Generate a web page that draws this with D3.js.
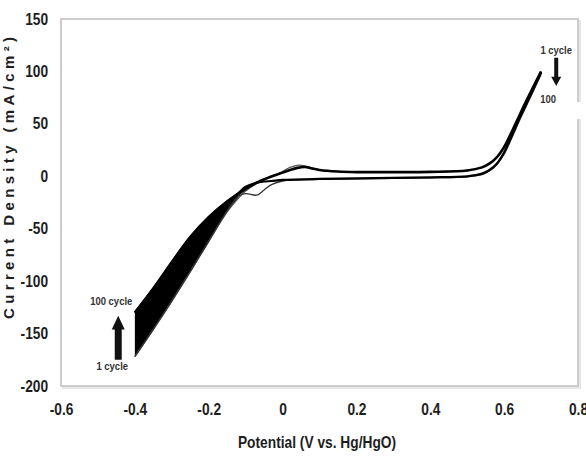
<!DOCTYPE html>
<html>
<head>
<meta charset="utf-8">
<script src="https://cdn.jsdelivr.net/npm/d3@7/dist/d3.min.js"></script>
<style>
    body { margin: 0; background: #fff; }
    .tick text { font-family: 'Liberation Sans', Arial, sans-serif; font-weight: bold; font-size: 16px; fill: #1e1e1e; }
    .lbl { font-family: 'Liberation Sans', Arial, sans-serif; font-weight: bold; fill: #1e1e1e; }
    .note { font-family: 'Liberation Sans', Arial, sans-serif; font-weight: bold; font-size: 11px; fill: #333; }
</style>
</head>
<body>
<div id="chart"></div>
<script>
// tick labels
var xTicks = [-0.6, -0.4, -0.2, 0, 0.2, 0.4, 0.6, 0.8];
var yTicks = [150, 100, 50, 0, -50, -100, -150, -200];

// forward (anodic) sweep, -0.4 -> 0.7 V
var fwdV   = [-0.4, -0.35, -0.3, -0.25, -0.2, -0.15, -0.12, -0.1, -0.07, -0.04, -0.02, 0, 0.02, 0.04, 0.06, 0.08, 0.1, 0.15, 0.2, 0.3, 0.4, 0.5, 0.54, 0.56, 0.58, 0.6, 0.62, 0.64, 0.66, 0.68, 0.7];
var fwd100 = [-130, -107, -82, -58, -39, -24, -17, -12, -6, -1.5, 1, 3.5, 6, 8, 8.8, 7.5, 6, 4.5, 4, 4, 4.2, 5.5, 8.5, 12, 18, 28, 42, 57, 72, 86, 100];
var fwd1   = [-172, -146, -119, -91, -62, -34, -21, -14, -7, -2, 1.5, 4.5, 8.5, 10.5, 10, 8, 6, 4.5, 4, 4, 4.2, 5.5, 8.5, 12, 18, 27, 41, 56, 71, 85, 98];

// reverse (cathodic) sweep, 0.7 -> -0.4 V
var revV   = [0.7, 0.68, 0.66, 0.64, 0.62, 0.6, 0.58, 0.56, 0.54, 0.5, 0.4, 0.3, 0.2, 0.1, 0, -0.03, -0.05, -0.07, -0.1, -0.12, -0.15, -0.2, -0.25, -0.3, -0.35, -0.4];
var rev100 = [99, 84, 69, 54, 38, 23, 12, 6, 2.5, 0, -1, -1.5, -2, -2.5, -3.5, -4.5, -5, -6, -10, -16, -24, -39, -58, -82, -107, -130];
var rev1   = [97, 82, 67, 52, 36, 21, 11, 5, 1.5, -0.5, -1.5, -2, -2.5, -3, -4.5, -8, -13, -18, -16.5, -19, -33, -62, -91, -119, -146, -172];

var narrow = "scale(0.86,1)";

function draw_chart(element) {

    var svg = d3.select("#" + element).append("svg").attr("width", 586).attr("height", 462),
        margin = {top: 19, right: 8, bottom: 76, left: 61},
        width = +svg.attr("width") - margin.left - margin.right,
        height = +svg.attr("height") - margin.top - margin.bottom;

    var x = d3.scaleLinear().domain([-0.6, 0.8]).range([margin.left, margin.left + width]);
    var y = d3.scaleLinear().domain([-200, 150]).range([margin.top + height, margin.top]);

    // plot frame with a soft shadow
    svg.append("rect")
        .attr("x", margin.left + 2).attr("y", margin.top + 2)
        .attr("width", width).attr("height", height)
        .attr("fill", "none").attr("stroke", "#e6e6e6").attr("stroke-width", 2);
    svg.append("rect")
        .attr("x", margin.left).attr("y", margin.top)
        .attr("width", width).attr("height", height)
        .attr("fill", "#fff").attr("stroke", "#cdcdcd").attr("stroke-width", 2);

    var fmt = function (d) { return String(d); };

    var gx = svg.append("g")
        .attr("transform", "translate(0," + (margin.top + height) + ")")
        .call(d3.axisBottom(x).tickValues(xTicks).tickSize(0).tickPadding(18).tickFormat(fmt));
    gx.select(".domain").remove();
    gx.selectAll(".tick text").attr("transform", narrow);

    var gy = svg.append("g")
        .attr("transform", "translate(" + margin.left + ",0)")
        .call(d3.axisLeft(y).tickValues(yTicks).tickSize(0).tickPadding(15).tickFormat(fmt));
    gy.select(".domain").remove();
    gy.selectAll(".tick text").attr("transform", narrow);

    // axis titles
    svg.append("text").attr("class", "lbl")
        .attr("transform", "translate(317,448) " + narrow)
        .attr("text-anchor", "middle").attr("font-size", 16)
        .text("Potential (V vs. Hg/HgO)");

    svg.append("text").attr("class", "lbl")
        .attr("transform", "translate(14,178) rotate(-90)")
        .attr("text-anchor", "middle").attr("font-size", 15)
        .attr("textLength", 282).attr("lengthAdjust", "spacing")
        .text("Current Density (mA/cm²)");

    // black band between cycle 1 and cycle 100 in the cathodic region
    var bandIdx = d3.range(fwdV.length).filter(function (i) { return fwdV[i] <= -0.12; });
    var area = d3.area()
        .x(function (i) { return x(fwdV[i]); })
        .y0(function (i) { return y(fwd1[i]); })
        .y1(function (i) { return y(fwd100[i]); })
        .curve(d3.curveMonotoneX);
    svg.append("path").datum(bandIdx).attr("d", area).attr("fill", "#000");

    var line = d3.line()
        .x(function (d) { return x(d[0]); })
        .y(function (d) { return y(d[1]); })
        .curve(d3.curveCatmullRom.alpha(0.5));

    function pairs(vs, is) {
        return vs.map(function (v, i) { return [v, is[i]]; });
    }

    var curves = [
        {pts: pairs(fwdV, fwd1), color: "#555", w: 1.3},
        {pts: pairs(revV, rev1), color: "#333", w: 1.3},
        {pts: pairs(fwdV, fwd100), color: "#000", w: 2.6},
        {pts: pairs(revV, rev100), color: "#000", w: 2.2}
    ];
    svg.selectAll(".cv")
        .data(curves)
        .enter().append("path")
        .attr("class", "cv")
        .attr("d", function (d) { return line(d.pts); })
        .attr("fill", "none")
        .attr("stroke", function (d) { return d.color; })
        .attr("stroke-width", function (d) { return d.w; })
        .attr("stroke-linejoin", "round");

    // annotations, lower left
    var ax = x(-0.445);
    svg.append("text").attr("class", "note")
        .attr("transform", "translate(" + (ax - 7) + "," + y(-123) + ") " + narrow)
        .attr("text-anchor", "middle").text("100 cycle");
    svg.append("path")
        .attr("d", "M" + (ax - 3.5) + "," + y(-175) + "V" + y(-146) + "H" + (ax - 6.5) +
            "L" + ax + "," + y(-133) + "L" + (ax + 6.5) + "," + y(-146) + "H" + (ax + 3.5) + "V" + y(-175) + "Z")
        .attr("fill", "#111");
    svg.append("text").attr("class", "note")
        .attr("transform", "translate(" + (ax - 6) + "," + y(-185) + ") " + narrow)
        .attr("text-anchor", "middle").text("1 cycle");

    // annotations, upper right
    var bx = x(0.741);
    svg.append("rect").attr("x", margin.left + width - 6).attr("y", 102)
        .attr("width", 14).attr("height", 17).attr("fill", "#fff");
    svg.append("text").attr("class", "note").attr("font-size", 10.5)
        .attr("transform", "translate(" + bx + "," + y(116.5) + ") " + narrow)
        .attr("text-anchor", "middle").text("1 cycle");
    svg.append("path")
        .attr("d", "M" + (bx - 2) + "," + y(113) + "V" + y(95) + "H" + (bx - 5) +
            "L" + bx + "," + y(86) + "L" + (bx + 5) + "," + y(95) + "H" + (bx + 2) + "V" + y(113) + "Z")
        .attr("fill", "#111");
    svg.append("text").attr("class", "note").attr("font-size", 10.5)
        .attr("transform", "translate(" + (bx - 8) + "," + y(70) + ") " + narrow)
        .attr("text-anchor", "middle").text("100");
}

draw_chart("chart");
</script>
</body>
</html>
